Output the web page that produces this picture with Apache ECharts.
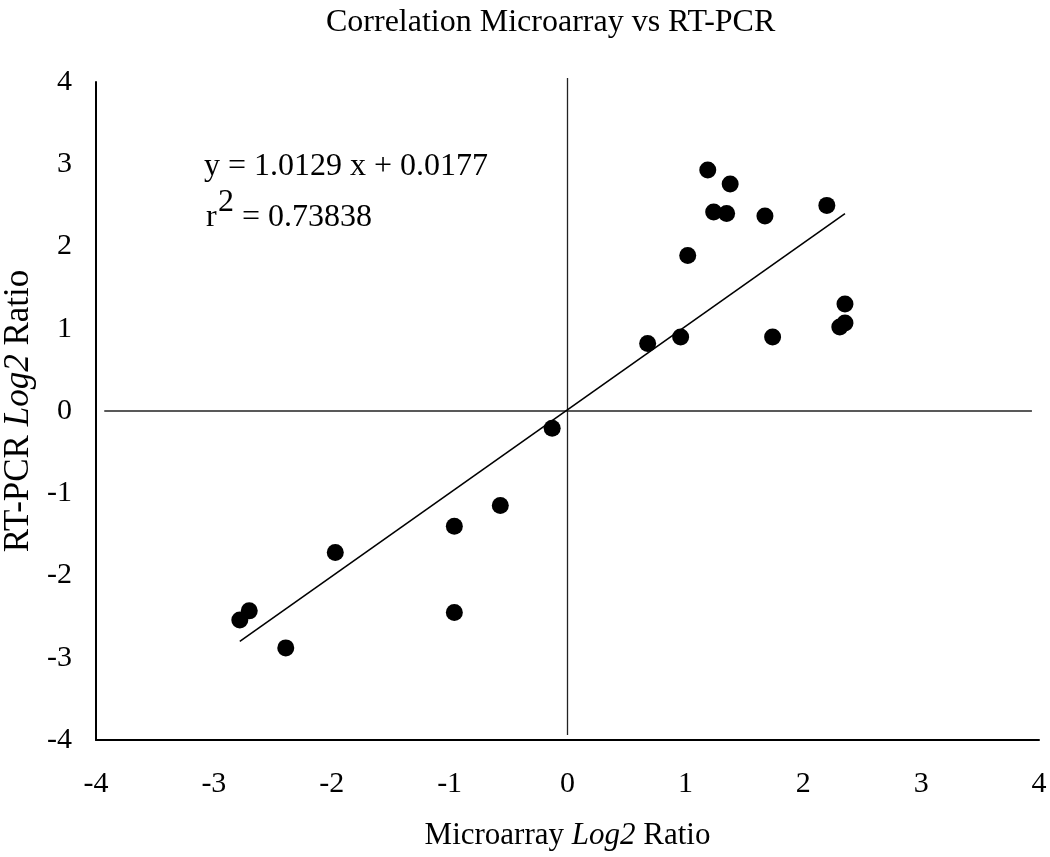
<!DOCTYPE html>
<html>
<head>
<meta charset="utf-8">
<script src="https://cdn.jsdelivr.net/npm/echarts@6/dist/echarts.min.js"></script>
<style>
html,body{margin:0;padding:0;background:#fff;}
#chart{width:1050px;height:857px;}
</style>
</head>
<body>
<div id="chart"></div>
<script>
// Data
const microarray = [-2.78, -2.70, -2.39, -1.97, -0.96, -0.96, -0.57, -0.13, 0.68, 0.96, 1.02, 1.19, 1.38, 1.24, 1.35, 1.675, 2.20, 1.74, 2.354, 2.31, 2.354];
const rtpcr      = [-2.54, -2.43, -2.88, -1.72, -1.40, -2.45, -1.15, -0.21, 0.82, 0.90, 1.89, 2.93, 2.76, 2.42, 2.40, 2.37, 2.50, 0.90, 1.30, 1.02, 1.07];
const trendX = [-2.78, 2.354];
const trendY = [-2.80, 2.40];
const vLineX = [0, 0];
const vLineY = [4.05, -3.94];
const hLineX = [-3.93, 3.94];
const hLineY = [0, 0];
const axisMin = -4, axisMax = 4, axisStep = 1;
const titleText = 'Correlation Microarray vs RT-PCR';
const eqLine1 = 'y = 1.0129 x + 0.0177';
const eqR = 'r';
const eqSup = '2';
const eqLine2 = '= 0.73838';

const FONT = 'Liberation Serif';
const pts = microarray.map((x, i) => [x, rtpcr[i]]);
const zip = (a, b) => a.map((v, i) => [v, b[i]]);

const chart = echarts.init(document.getElementById('chart'), null, {renderer: 'canvas'});
chart.setOption({
  animation: false,
  backgroundColor: '#ffffff',
  title: {
    text: titleText,
    left: 321,
    top: 2,
    textStyle: {fontFamily: FONT, fontSize: 32, fontWeight: 'normal', color: '#000'}
  },
  grid: {left: 96, top: 82, right: 11, bottom: 117, containLabel: false, outerBoundsMode: 'none'},
  xAxis: {
    type: 'value', min: axisMin, max: axisMax, interval: axisStep,
    name: '{a|Microarray }{b|Log2}{a| Ratio}',
    nameLocation: 'middle', nameGap: 80,
    nameTextStyle: {rich: {
      a: {fontFamily: FONT, fontSize: 31, color: '#000'},
      b: {fontFamily: FONT, fontSize: 31, color: '#000', fontStyle: 'italic'}
    }},
    axisLine: {onZero: false, lineStyle: {color: '#000', width: 2}},
    axisTick: {show: false},
    splitLine: {show: false},
    axisLabel: {fontFamily: FONT, fontSize: 30, color: '#000', margin: 29}
  },
  yAxis: {
    type: 'value', min: axisMin, max: axisMax, interval: axisStep,
    name: '{a|RT-PCR }{b|Log2}{a| Ratio}',
    nameLocation: 'middle', nameGap: 54,
    nameTextStyle: {rich: {
      a: {fontFamily: FONT, fontSize: 35, color: '#000'},
      b: {fontFamily: FONT, fontSize: 35, color: '#000', fontStyle: 'italic'}
    }},
    axisLine: {onZero: false, lineStyle: {color: '#000', width: 2}},
    axisTick: {show: false},
    splitLine: {show: false},
    axisLabel: {fontFamily: FONT, fontSize: 30, color: '#000', margin: 24}
  },
  series: [
    {
      type: 'line', data: zip(vLineX, vLineY), symbol: 'none', clip: false,
      lineStyle: {color: '#222', width: 1.3}, silent: true, z: 1
    },
    {
      type: 'line', data: zip(hLineX, hLineY), symbol: 'none', clip: false,
      lineStyle: {color: '#222', width: 1.3}, silent: true, z: 1
    },
    {
      type: 'line', data: zip(trendX, trendY), symbol: 'none',
      lineStyle: {color: '#000', width: 1.6}, silent: true, z: 2
    },
    {
      type: 'scatter', data: pts, symbol: 'circle', symbolSize: 17,
      itemStyle: {color: '#000', opacity: 1}, z: 3
    }
  ],
  graphic: [
    {type: 'text', left: 204, top: 151, style: {text: eqLine1, font: '32px "Liberation Serif"', fill: '#000'}},
    {type: 'text', left: 206, top: 202, style: {text: eqR, font: '32px "Liberation Serif"', fill: '#000'}},
    {type: 'text', left: 218, top: 187, style: {text: eqSup, font: '32px "Liberation Serif"', fill: '#000'}},
    {type: 'text', left: 242, top: 202, style: {text: eqLine2, font: '32px "Liberation Serif"', fill: '#000'}}
  ]
});
</script>
</body>
</html>
